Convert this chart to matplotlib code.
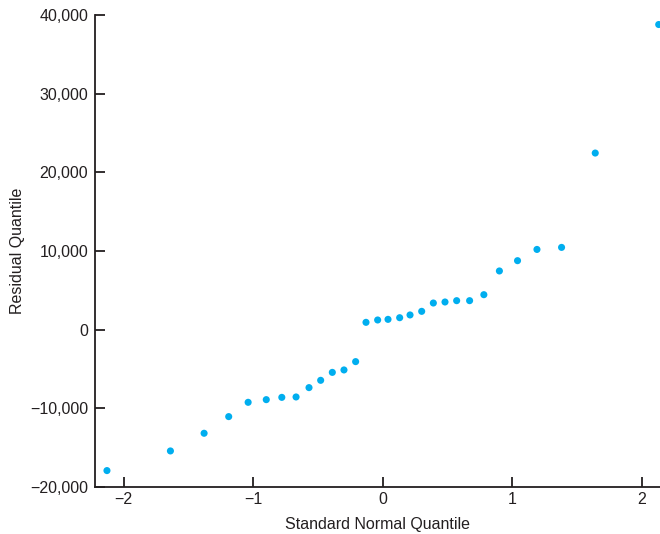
import matplotlib
matplotlib.use('Agg')
import matplotlib.pyplot as plt
from matplotlib.ticker import FuncFormatter

plt.rcParams['font.family'] = ['Liberation Sans', 'DejaVu Sans']

# standard normal quantiles (x) and residual quantiles (y)
normal_q = [-2.13, -1.64, -1.38, -1.19, -1.04, -0.90, -0.78, -0.67, -0.57, -0.48,
            -0.39, -0.30, -0.21, -0.13, -0.04, 0.04, 0.13, 0.21, 0.30, 0.39,
            0.48, 0.57, 0.67, 0.78, 0.90, 1.04, 1.19, 1.38, 1.64, 2.13]
resid_q = [-17950, -15450, -13200, -11080, -9260, -8920, -8630, -8580, -7390, -6460,
           -5450, -5140, -4080, 920, 1220, 1300, 1510, 1860, 2320, 3380,
           3510, 3680, 3680, 4440, 7460, 8770, 10200, 10460, 22470, 38830]
x_ticks = [-2, -1, 0, 1, 2]
y_ticks = [-20000, -10000, 0, 10000, 20000, 30000, 40000]

fig = plt.figure(figsize=(6.6, 5.34), dpi=100)
ax = fig.add_axes([0.1444, 0.0886, 0.8556, 0.8827])

ax.scatter(normal_q, resid_q, s=26, color='#00aeef', edgecolors='none', clip_on=False, zorder=3)

ax.set_xlim(-2.22, 2.14)
ax.set_ylim(-20000, 40000)
ax.set_xticks(x_ticks)
ax.set_yticks(y_ticks)
ax.yaxis.set_major_formatter(FuncFormatter(lambda v, p: '{:,.0f}'.format(v).replace('-', '\u2212')))

for s in ['top', 'right']:
    ax.spines[s].set_visible(False)
for s in ['left', 'bottom']:
    ax.spines[s].set_linewidth(1.3)
    ax.spines[s].set_color('#231f20')

ax.tick_params(direction='in', length=7, width=1.3, color='#231f20', labelsize=11.5,
               labelcolor='#231f20')
ax.tick_params(axis='y', pad=5)
ax.tick_params(axis='x', pad=4)

ax.set_xlabel('Standard Normal Quantile', fontsize=11.5, color='#231f20', labelpad=7)
ax.set_ylabel('Residual Quantile', fontsize=11.5, color='#231f20', labelpad=4)

fig.savefig('out.png', dpi=100)
